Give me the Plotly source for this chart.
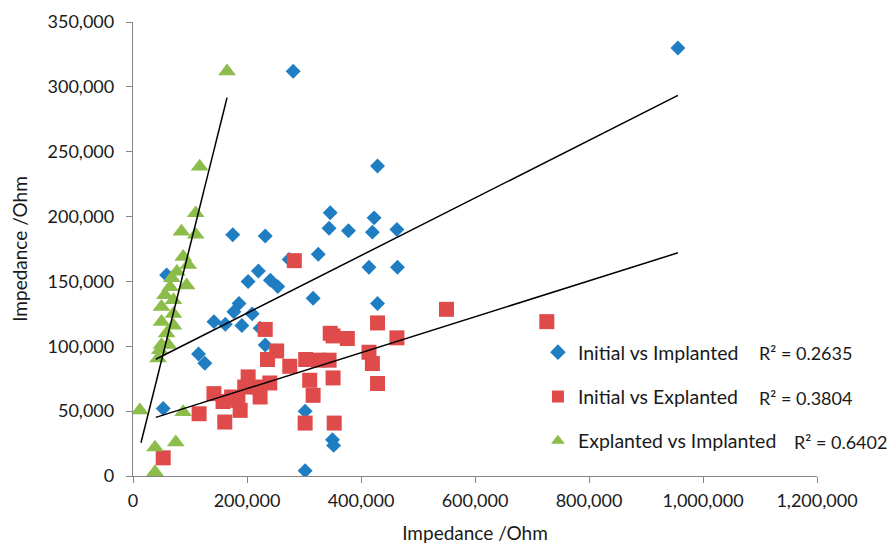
import numpy as np
import plotly.graph_objects as go

# ---- data (Ohm) ----
init_impl_x = [956000, 281000, 429000, 346000, 423000, 344000, 378000, 420000, 463000,
               175000, 232000, 325000, 274000, 414000, 464000, 220000, 202000, 241000,
               254000, 316000, 429000, 186000, 177000, 209000, 142000, 162000, 191000,
               223000, 232000, 115000, 126000, 53000, 302000, 350000, 352000, 302000, 59000]
init_impl_y = [330000, 312000, 239000, 203000, 199000, 191000, 189000, 188000, 190000,
               186000, 185000, 171000, 167000, 161000, 161000, 158000, 150000, 151000,
               146000, 137000, 133000, 133000, 126600, 125000, 119000, 117000, 116000,
               114000, 101000, 94000, 87000, 52000, 50000, 28000, 23600, 4000, 155000]

init_expl_x = [283000, 550000, 726000, 429000, 232000, 346000, 351000, 376000, 463000,
               252000, 236000, 414000, 420000, 275000, 303000, 325000, 344000, 310000,
               351000, 316000, 429000, 202000, 240000, 196000, 220000, 223000, 142000,
               173000, 116000, 188000, 161000, 302000, 353000, 53000, 158000, 184000]
init_expl_y = [166000, 128500, 119000, 118000, 113000, 110000, 108000, 106000, 106500,
               96400, 89800, 95400, 86700, 84600, 89800, 89300, 89300, 73800,
               75600, 62200, 71300, 76400, 71700, 68600, 68600, 60900, 63500,
               60900, 48000, 50600, 41600, 40800, 40800, 14000, 57400, 58300]

expl_impl_x = [165000, 117000, 110000, 85000, 110000, 88000, 97000, 77000, 68000,
               94000, 65000, 56000, 71000, 50000, 71000, 50000, 71000, 59000,
               62000, 47000, 44000, 12000, 88000, 38600, 75000, 38600, 50000]
expl_impl_y = [312000, 238600, 202600, 188400, 186000, 169000, 162700, 157500, 152600,
               147000, 145700, 139500, 135600, 130400, 125000, 118900, 116000, 110000,
               101000, 97000, 90600, 50600, 49300, 22000, 26000, 3000, 101000]

# x extent covered by each linear trendline
trend_x_ranges = [[40000, 956000], [40000, 956000], [14000, 165000]]

series_names = ["Initial vs Implanted", "Initial vs Explanted", "Explanted vs Implanted"]
r2_labels = ["R² = 0.2635", "R² = 0.3804", "R² = 0.6402"]

x_ticks = [0, 200000, 400000, 600000, 800000, 1000000, 1200000]
y_ticks = [0, 50000, 100000, 150000, 200000, 250000, 300000, 350000]

# ---- styling ----
FONT = "Lato"
TXT = "#1a1a1a"
colors = ["#1F7EC2", "#DF4B4B", "#8CBD4A"]
symbols = ["diamond", "square", "triangle-up"]
sizes = [11.5, 15, 15.5]

W, H = 892, 544
L, R, T, B = 133, 75, 22, 68

fig = go.Figure()
data = [(init_impl_x, init_impl_y), (init_expl_x, init_expl_y), (expl_impl_x, expl_impl_y)]
for i, (xs, ys) in enumerate(data):
    fig.add_trace(go.Scatter(
        x=xs, y=ys, mode="markers", name=series_names[i], legendgroup=f"g{i}",
        marker=dict(symbol=symbols[i], size=sizes[i], color=colors[i], line=dict(width=0)),
        hoverinfo="x+y"))

for i, (xs, ys) in enumerate(data):
    xa = np.array(xs, float)
    ya = np.array(ys, float)
    m, c = np.polyfit(xa, ya, 1)
    xl = np.array(trend_x_ranges[i], float)
    fig.add_trace(go.Scatter(x=xl, y=m * xl + c, mode="lines", showlegend=False,
                             line=dict(color="black", width=1.5), hoverinfo="skip"))

axis_common = dict(showgrid=False, zeroline=False, showline=True, linecolor="#868686",
                   linewidth=1.3, ticks="outside", ticklen=6, tickcolor="#868686",
                   tickfont=dict(family=FONT, size=18, color=TXT), tickformat=",",
                   automargin=False)

fig.update_xaxes(range=[0, 1200000], tickvals=x_ticks, ticklabelstandoff=2,
                 title=dict(text="Impedance /Ohm", font=dict(family=FONT, size=19, color=TXT), standoff=24),
                 **axis_common)
fig.update_yaxes(range=[0, 350000], tickvals=y_ticks, ticklabelstandoff=8,
                 title=dict(text="Impedance /Ohm", font=dict(family=FONT, size=19, color=TXT), standoff=14),
                 **axis_common)

# R² labels
r2_pos = [(0.912, 0.272), (0.912, 0.171), (0.963, 0.074)]
for (px, py), txt in zip(r2_pos, r2_labels):
    fig.add_annotation(x=px, y=py, xref="paper", yref="paper", text=txt, showarrow=False,
                       xanchor="left", yanchor="middle",
                       font=dict(family=FONT, size=18, color=TXT))

fig.update_layout(
    width=W, height=H, margin=dict(l=L, r=R, t=T, b=B, autoexpand=False),
    paper_bgcolor="white", plot_bgcolor="white",
    showlegend=True,
    legend=dict(x=0.592, y=0.315, xanchor="left", yanchor="top", bgcolor="rgba(0,0,0,0)",
                font=dict(family=FONT, size=19.5, color=TXT), tracegroupgap=16,
                itemsizing="constant"),
)

fig.write_html("out.html")
